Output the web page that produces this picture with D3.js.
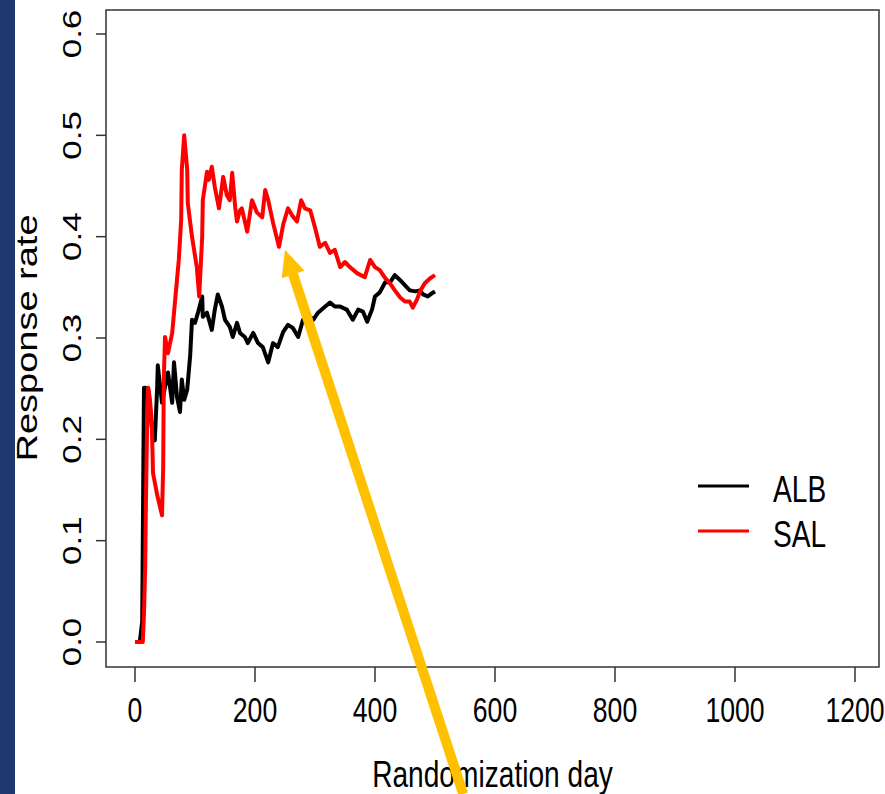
<!DOCTYPE html>
<html>
	<head>
		<script src="https://d3js.org/d3.v7.min.js"></script>
	</head>
	<body style="margin:0;">
		<svg id="my_dataviz" width="885" height="794"></svg>
	</body>
	<script>
	// Data: day of randomization and cumulative response rate
	var albDays  = [8, 12, 13, 14, 15, 17, 22, 28, 33, 37, 38, 45, 50, 55, 62, 65, 70, 75, 78, 82, 87, 92, 95, 100, 105, 112, 113, 120, 128, 133, 138, 145, 150, 158, 163, 170, 175, 183, 188, 197, 205, 213, 222, 230, 238, 247, 255, 263, 272, 280, 288, 297, 305, 317, 325, 333, 342, 353, 363, 372, 380, 387, 395, 400, 408, 417, 425, 433, 442, 450, 458, 467, 475, 480, 488, 497, 500];
	var albRates = [0.0, 0.02, 0.10, 0.18, 0.251, 0.251, 0.249, 0.212, 0.199, 0.252, 0.273, 0.236, 0.252, 0.266, 0.236, 0.276, 0.242, 0.227, 0.259, 0.239, 0.249, 0.283, 0.318, 0.315, 0.325, 0.341, 0.321, 0.325, 0.308, 0.328, 0.343, 0.331, 0.318, 0.311, 0.301, 0.315, 0.305, 0.301, 0.295, 0.305, 0.295, 0.291, 0.276, 0.295, 0.291, 0.306, 0.313, 0.310, 0.301, 0.318, 0.323, 0.318, 0.325, 0.331, 0.335, 0.331, 0.331, 0.328, 0.318, 0.328, 0.326, 0.316, 0.328, 0.341, 0.345, 0.355, 0.355, 0.362, 0.357, 0.352, 0.347, 0.346, 0.347, 0.343, 0.341, 0.345, 0.346];

	var salDays  = [0, 13, 15, 17, 18, 20, 22, 25, 28, 30, 37, 45, 47, 48, 50, 55, 62, 67, 73, 77, 78, 82, 87, 88, 95, 103, 107, 112, 113, 120, 123, 128, 133, 140, 147, 153, 158, 162, 167, 170, 175, 178, 187, 195, 203, 212, 217, 222, 230, 240, 247, 255, 263, 270, 277, 283, 292, 300, 308, 317, 325, 333, 342, 350, 358, 370, 383, 392, 400, 408, 417, 425, 433, 442, 450, 458, 463, 470, 475, 483, 492, 500];
	var salRates = [0.0, 0.0, 0.029, 0.074, 0.127, 0.209, 0.251, 0.239, 0.216, 0.167, 0.145, 0.125, 0.173, 0.259, 0.301, 0.285, 0.305, 0.338, 0.377, 0.417, 0.466, 0.500, 0.466, 0.433, 0.400, 0.370, 0.341, 0.400, 0.436, 0.464, 0.456, 0.469, 0.449, 0.428, 0.459, 0.441, 0.436, 0.463, 0.429, 0.415, 0.426, 0.428, 0.405, 0.436, 0.424, 0.419, 0.446, 0.436, 0.414, 0.390, 0.412, 0.428, 0.420, 0.415, 0.436, 0.428, 0.426, 0.409, 0.390, 0.394, 0.384, 0.387, 0.370, 0.375, 0.370, 0.364, 0.360, 0.377, 0.370, 0.367, 0.359, 0.354, 0.347, 0.340, 0.336, 0.336, 0.330, 0.338, 0.346, 0.354, 0.359, 0.362];

	var xTicks = [0, 200, 400, 600, 800, 1000, 1200];
	var yTicks = [0.0, 0.1, 0.2, 0.3, 0.4, 0.5, 0.6];
	var seriesNames = ["ALB", "SAL"];
	var seriesColors = ["#000000", "#ff0000"];

	// arrow annotation, in data units: tail then tip
	var arrowDays = [547, 250];
	var arrowRates = [-0.15, 0.387];

	var svg = d3.select("svg");
	var font = "'Liberation Sans', Arial, sans-serif";
	var squeeze = 0.76;   // the picture is narrower than it is tall

	var x = d3.scaleLinear().domain([0, 1200]).range([135, 855]);
	var y = d3.scaleLinear().domain([0, 0.6]).range([642, 34]);
	var box = {left: 106, right: 879, top: 10, bottom: 667};

	// background and the dark strip on the left
	svg.append("rect").attr("width", 885).attr("height", 794).attr("fill", "#fff");
	svg.append("rect").attr("width", 15).attr("height", 794).attr("fill", "#1f386e");

	// box
	svg.append("rect")
		.attr("x", box.left).attr("y", box.top)
		.attr("width", box.right - box.left).attr("height", box.bottom - box.top)
		.attr("fill", "none").attr("stroke", "#333").attr("stroke-width", 1.5);

	// x ticks
	svg.selectAll(".xtick")
		.data(xTicks)
		.enter().append("line")
			.attr("x1", function(d){ return x(d) }).attr("x2", function(d){ return x(d) })
			.attr("y1", box.bottom).attr("y2", box.bottom + 15)
			.attr("stroke", "#333").attr("stroke-width", 1.5);
	svg.selectAll(".xlab")
		.data(xTicks)
		.enter().append("text")
			.attr("transform", function(d){ return "translate(" + x(d) + ",722) scale(" + squeeze + ",1)" })
			.attr("text-anchor", "middle")
			.style("font-family", font).style("font-size", "35px")
			.text(function(d){ return d });

	// y ticks
	svg.selectAll(".ytick")
		.data(yTicks)
		.enter().append("line")
			.attr("x1", box.left - 10).attr("x2", box.left)
			.attr("y1", function(d){ return y(d) }).attr("y2", function(d){ return y(d) })
			.attr("stroke", "#333").attr("stroke-width", 1.5);
	svg.selectAll(".ylab")
		.data(yTicks)
		.enter().append("text")
			.attr("transform", function(d){ return "translate(81," + y(d) + ") scale(" + squeeze + ",1) rotate(-90)" })
			.attr("text-anchor", "middle")
			.style("font-family", font).style("font-size", "35px")
			.text(function(d){ return d.toFixed(1) });

	// axis titles
	svg.append("text")
		.attr("transform", "translate(" + (box.left + box.right) / 2 + ",787) scale(" + squeeze + ",1)")
		.attr("text-anchor", "middle")
		.style("font-family", font).style("font-size", "37px")
		.text("Randomization day");
	svg.append("text")
		.attr("transform", "translate(37," + y(0.3) + ") scale(" + squeeze + ",1) rotate(-90)")
		.attr("text-anchor", "middle")
		.style("font-family", font).style("font-size", "38px")
		.text("Response rate");

	// the two series
	var line = d3.line()
		.x(function(d){ return x(d[0]) })
		.y(function(d){ return y(d[1]) });
	var series = [d3.zip(albDays, albRates), d3.zip(salDays, salRates)];
	svg.selectAll(".series")
		.data(series)
		.enter().append("path")
			.attr("d", line)
			.attr("fill", "none")
			.attr("stroke", function(d, i){ return seriesColors[i] })
			.attr("stroke-width", 4)
			.attr("stroke-linejoin", "round");

	// legend
	var legend = svg.selectAll(".legend")
		.data(seriesNames)
		.enter().append("g")
			.attr("transform", function(d, i){ return "translate(698," + (486 + i * 45) + ")" });
	legend.append("line")
		.attr("x1", 0).attr("x2", 51)
		.attr("stroke", function(d, i){ return seriesColors[i] })
		.attr("stroke-width", 3);
	legend.append("text")
		.attr("transform", "translate(75,16) scale(" + squeeze + ",1)")
		.style("font-family", font).style("font-size", "37px")
		.text(function(d){ return d });

	// yellow arrow
	var tail = [x(arrowDays[0]), y(arrowRates[0])];
	var tip = [x(arrowDays[1]), y(arrowRates[1])];
	var dx = tip[0] - tail[0], dy = tip[1] - tail[1];
	var len = Math.sqrt(dx * dx + dy * dy);
	var ux = dx / len, uy = dy / len;
	var headLen = 26, headHalf = 12;
	var base = [tip[0] - ux * headLen, tip[1] - uy * headLen];
	svg.append("line")
		.attr("x1", tail[0]).attr("y1", tail[1])
		.attr("x2", base[0] + ux * 2).attr("y2", base[1] + uy * 2)
		.attr("stroke", "#ffc000").attr("stroke-width", 10);
	svg.append("path")
		.attr("d", "M" + tip[0] + "," + tip[1] +
			"L" + (base[0] - uy * headHalf) + "," + (base[1] + ux * headHalf) +
			"L" + (base[0] + uy * headHalf) + "," + (base[1] - ux * headHalf) + "Z")
		.attr("fill", "#ffc000");
	</script>
</html>
